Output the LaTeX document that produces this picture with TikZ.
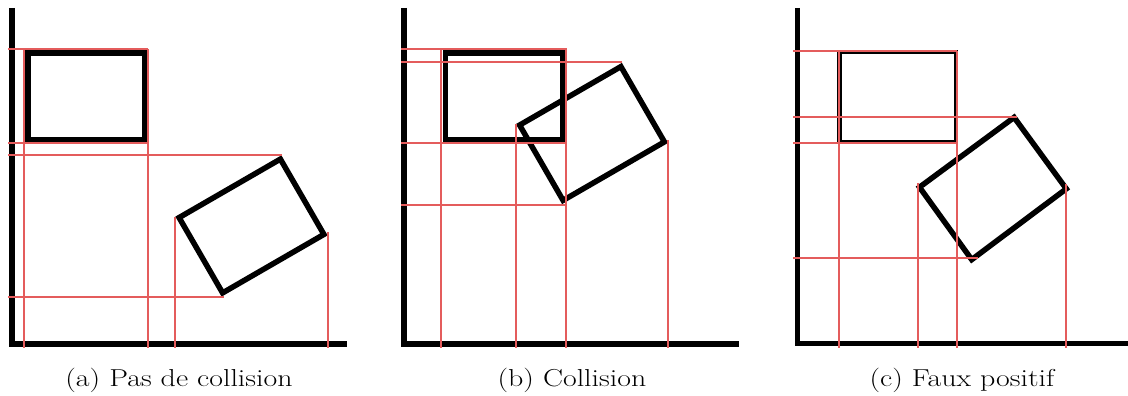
\documentclass[tikz,border=0pt]{standalone}
\usepackage{graphicx}
\usepackage{fontspec}
\setmainfont{Latin Modern Roman}
\definecolor{boxred}{RGB}{228,92,92}
\newcommand{\captxt}[1]{\scalebox{1.22}[1]{#1}}
\tikzset{
  axisline/.style={line width=5.5pt, black},
  blackbox/.style={line width=5.5pt, black, line join=miter},
  thinbox/.style={line width=4.5pt, black, line join=miter},
  bbline/.style={line width=2pt, boxred},
  captext/.style={font=\fontsize{24.5}{29}\selectfont, inner sep=0pt, anchor=base}
}
\begin{document}
\begin{tikzpicture}[x=1pt,y=-1pt]
\useasboundingbox (0,0) rectangle (1128,396);
% ---------- (a) ----------
\draw[axisline] (12,8) -- (12,344) -- (347,344);
\draw[blackbox] (28,53) rectangle (144.5,140);
\draw[blackbox] (280.4,159.1) -- (323.9,234.4) -- (222.6,292.9) -- (179.1,217.6) -- cycle;
\draw[bbline] (8,49) -- (148,49);
\draw[bbline] (8,143) -- (148,143);
\draw[bbline] (24,49) -- (24,348);
\draw[bbline] (148,49) -- (148,348);
\draw[bbline] (8,155) -- (282,155);
\draw[bbline] (8,297) -- (224,297);
\draw[bbline] (175,217) -- (175,348);
\draw[bbline] (328,232) -- (328,348);
\node[captext] (capa) at (179,386) {\captxt{(a) Pas de collision}};
% ---------- (b) ----------
\draw[axisline] (404,8) -- (404,344) -- (739,344);
\draw[blackbox] (445.5,53) rectangle (562.5,140);
\draw[blackbox] (620.9,66.6) -- (664.4,141.9) -- (563.1,200.4) -- (519.6,125.1) -- cycle;
\draw[bbline] (401,49) -- (567,49);
\draw[bbline] (401,62) -- (622,62);
\draw[bbline] (401,143) -- (567,143);
\draw[bbline] (401,205) -- (566,205);
\draw[bbline] (441,49) -- (441,348);
\draw[bbline] (516,124) -- (516,348);
\draw[bbline] (566,49) -- (566,348);
\draw[bbline] (668,140) -- (668,348);
\node[captext] (capb) at (572,386) {\captxt{(b) Collision}};
% ---------- (c) ----------
\draw[axisline] (797.5,8) -- (797.5,343.5) -- (1128,343.5);
\draw[thinbox] (839.5,52) rectangle (956,142);
\draw[blackbox] (1014.1,117.4) -- (1066.3,188.8) -- (971.7,259.6) -- (919.5,187.2) -- cycle;
\draw[bbline] (793,51) -- (957,51);
\draw[bbline] (793,117) -- (1017,117);
\draw[bbline] (793,143) -- (957,143);
\draw[bbline] (793,258) -- (978,258);
\draw[bbline] (839,51) -- (839,348);
\draw[bbline] (918,183) -- (918,348);
\draw[bbline] (957,51) -- (957,348);
\draw[bbline] (1066,184) -- (1066,348);
\node[captext] (capc) at (962,386) {\captxt{(c) Faux positif}};
\end{tikzpicture}
\end{document}
